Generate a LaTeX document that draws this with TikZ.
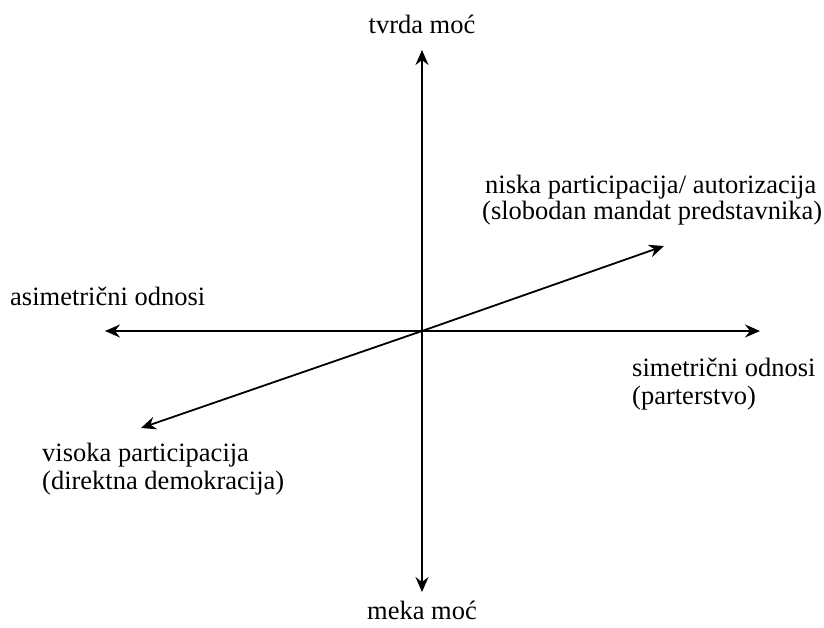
\documentclass[tikz,border=0pt]{standalone}
\usepackage{fontspec}
\setmainfont{Liberation Serif}
\usetikzlibrary{arrows.meta}
\begin{document}
\begin{tikzpicture}[x=1pt,y=-1pt,
  axis/.style={line width=1.8pt, -{Stealth[length=15pt,width=13pt,inset=5pt]}},
  lbl/.style={anchor=base west, inner sep=0pt, font=\fontsize{26.5}{29}\selectfont},
  clbl/.style={lbl, anchor=base}]
\useasboundingbox (0,0) rectangle (824,627);
\coordinate (O) at (422,331);
\coordinate (up) at (422,50);
\coordinate (down) at (422,592);
\coordinate (left) at (105,331);
\coordinate (right) at (760,331);
\coordinate (ne) at (664,246);
\coordinate (sw) at (141,428);
\draw[axis] (O) -- (up);
\draw[axis] (O) -- (down);
\draw[axis] (O) -- (left);
\draw[axis] (O) -- (right);
\draw[axis] (O) -- (ne);
\draw[axis] (O) -- (sw);
\node[clbl] (tvrda) at (422,33) {tvrda moć};
\node[clbl] (meka) at (422,619) {meka moć};
\node[lbl] (asim) at (10,305) {asimetrični odnosi};
\node[lbl] (sim1) at (632,376) {simetrični odnosi};
\node[lbl] (sim2) at (632,404) {(parterstvo)};
\node[lbl] (nis1) at (485,193) {niska participacija/ autorizacija};
\node[lbl] (nis2) at (482,219) {(slobodan mandat predstavnika)};
\node[lbl] (vis1) at (42,461) {visoka participacija};
\node[lbl] (vis2) at (42,489) {(direktna demokracija)};
\end{tikzpicture}
\end{document}
